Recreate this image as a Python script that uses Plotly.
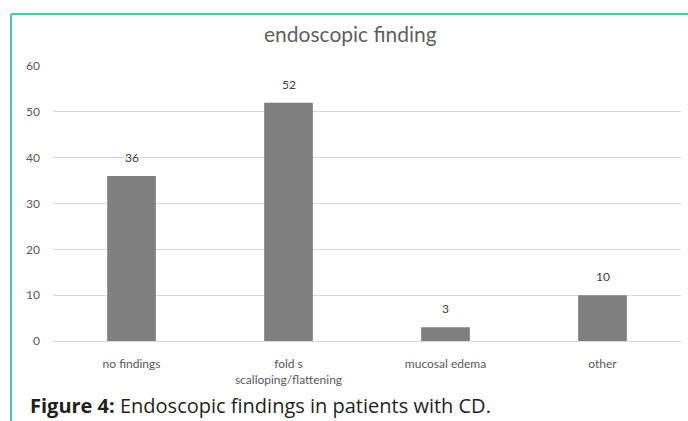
import plotly.graph_objects as go

categories = ["no findings", "fold s<br>scalloping/flattening", "mucosal edema", "other"]
values = [36, 52, 3, 10]
y_ticks = [0, 10, 20, 30, 40, 50, 60]

W, H = 688, 421
L, R, T, B = 53, 7, 66, 80
pw, ph = W - L - R, H - T - B

def px_x(x):
    return (x - L) / pw

def px_y(y):
    return (H - B - y) / ph

fig = go.Figure()
fig.add_trace(go.Bar(
    x=categories, y=values, width=0.31,
    marker=dict(color="#7f7f7f", line=dict(width=0)),
    cliponaxis=False,
))

label_annotations = [
    dict(x=c, y=v, xref="x", yref="y", text=str(v), showarrow=False, yanchor="bottom", yshift=9,
         font=dict(family="Lato", size=12, color="#404040"))
    for c, v in zip(categories, values)
]

teal = "#4cc9b4"
fig.update_layout(
    width=W, height=H,
    margin=dict(l=L, r=R, t=T, b=B),
    paper_bgcolor="white", plot_bgcolor="white",
    showlegend=False,
    bargap=0.69,
    font=dict(family="Lato", color="#595959"),
    xaxis=dict(showgrid=False, showline=False, ticks="", tickfont=dict(size=12, color="#595959"),
               ticklabelstandoff=14),
    yaxis=dict(range=[0, 60], tickvals=y_ticks, showgrid=True, gridcolor="#d9d9d9", gridwidth=1,
               zeroline=True, zerolinecolor="#d9d9d9", zerolinewidth=1,
               tickfont=dict(size=12, color="#595959"), ticklabelstandoff=12, showline=False),
    shapes=[
        dict(type="line", xref="paper", yref="paper", x0=px_x(11), x1=px_x(690), y0=px_y(14), y1=px_y(14),
             line=dict(color=teal, width=2)),
        dict(type="line", xref="paper", yref="paper", x0=px_x(11), x1=px_x(11), y0=px_y(14), y1=px_y(425),
             line=dict(color=teal, width=2)),
    ],
    annotations=label_annotations + [
        dict(text="endoscopic finding", xref="paper", yref="paper", x=px_x(350), y=px_y(34),
             xanchor="center", yanchor="middle", showarrow=False,
             font=dict(family="Lato", size=21, color="#5f5f5f")),
        dict(text="<b>Figure 4:</b> Endoscopic findings in patients with CD.", xref="paper", yref="paper",
             x=px_x(28), y=px_y(405), xanchor="left", yanchor="middle", showarrow=False,
             font=dict(family="Open Sans", size=20, color="#231f20")),
    ],
)

fig.write_html("out.html", config={"displayModeBar": False},
               post_script="document.body.style.margin='0';document.body.style.overflow='hidden';")
